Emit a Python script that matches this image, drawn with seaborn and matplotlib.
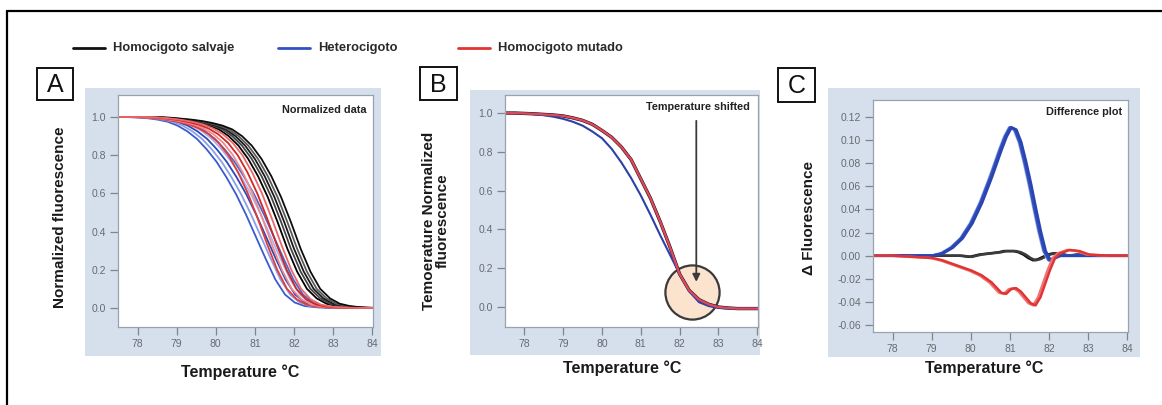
import numpy as np
import pandas as pd
import matplotlib
matplotlib.use("Agg")
import matplotlib.pyplot as plt
import seaborn as sns
from matplotlib.lines import Line2D
from matplotlib.patches import Rectangle
from matplotlib.ticker import FormatStrFormatter

# ---------------------------------------------------------------- data
temps = [77.0, 77.25, 77.5, 77.75, 78.0, 78.25, 78.5, 78.75, 79.0, 79.25,
         79.5, 79.75, 80.0, 80.25, 80.5, 80.75, 81.0, 81.25, 81.5, 81.75,
         82.0, 82.25, 82.5, 82.75, 83.0, 83.25, 83.5, 83.75, 84.0, 84.25, 84.5]

groups = ["Homocigoto salvaje", "Heterocigoto", "Homocigoto mutado"]

# A: normalized melting curves (median replicate of each genotype)
norm_wt = [1.0, 1.0, 1.0, 1.0, 1.0, 1.0, 0.998, 0.995, 0.99, 0.985,
           0.978, 0.968, 0.955, 0.935, 0.90, 0.85, 0.78, 0.69, 0.58, 0.45,
           0.31, 0.19, 0.10, 0.05, 0.022, 0.01, 0.004, 0.001, 0.0, 0.0, 0.0]
norm_het = [1.0, 1.0, 1.0, 1.0, 0.999, 0.997, 0.993, 0.986, 0.975, 0.955,
            0.925, 0.885, 0.83, 0.765, 0.685, 0.595, 0.49, 0.375, 0.26, 0.15,
            0.07, 0.028, 0.01, 0.004, 0.001, 0.0, 0.0, 0.0, 0.0, 0.0, 0.0]
norm_mut = [1.0, 1.0, 1.0, 1.0, 1.0, 0.998, 0.995, 0.99, 0.983, 0.973,
            0.96, 0.94, 0.91, 0.865, 0.80, 0.71, 0.60, 0.47, 0.33, 0.20,
            0.10, 0.045, 0.018, 0.007, 0.003, 0.001, 0.0, 0.0, 0.0, 0.0, 0.0]

# melting-temperature offsets of the individual replicates (degC)
rep_shift_wt = [-0.17, -0.08, 0.0, 0.08, 0.17]
rep_shift_het = [-0.23, -0.10, 0.03, 0.15, 0.23]
rep_shift_mut = [-0.18, -0.06, 0.06, 0.18]

# B: temperature-shifted curves
shift_wt = [1.0, 1.0, 1.0, 1.0, 0.998, 0.996, 0.993, 0.99, 0.985, 0.975,
            0.962, 0.942, 0.91, 0.875, 0.825, 0.76, 0.66, 0.56, 0.44, 0.31,
            0.17, 0.085, 0.038, 0.014, 0.0, -0.005, -0.008, -0.008, -0.008, -0.008, -0.008]
shift_het = [1.0, 1.0, 1.0, 1.0, 0.998, 0.994, 0.989, 0.981, 0.97, 0.955,
             0.935, 0.905, 0.87, 0.815, 0.745, 0.665, 0.575, 0.475, 0.37, 0.27,
             0.17, 0.08, 0.025, 0.005, -0.005, -0.008, -0.008, -0.008, -0.008, -0.008, -0.008]
shift_mut = shift_wt

# C: difference plot relative to the wild-type mean
temps_diff = [77.0, 77.5, 78.0, 78.5, 79.0, 79.25, 79.5, 79.75, 80.0, 80.25,
              80.5, 80.75, 80.875, 81.0, 81.125, 81.25, 81.375, 81.5, 81.625, 81.75,
              81.875, 82.0, 82.125, 82.25, 82.5, 82.75, 83.0, 83.5, 84.0, 84.5]
diff_wt = [0.0, 0.0, 0.0, 0.0, 0.0, 0.0, 0.0, 0.0, -0.001, 0.001,
           0.002, 0.003, 0.004, 0.004, 0.004, 0.003, 0.001, -0.002, -0.004, -0.003,
           -0.001, 0.001, 0.002, 0.002, 0.0, 0.001, 0.0, 0.0, 0.0, 0.0]
diff_het = [0.0, 0.0, 0.0, 0.0, 0.0, 0.002, 0.007, 0.015, 0.028, 0.046,
            0.068, 0.092, 0.103, 0.111, 0.109, 0.098, 0.081, 0.062, 0.041, 0.021,
            0.004, -0.004, -0.002, 0.0, 0.0, 0.0, 0.0, 0.0, 0.0, 0.0]
diff_mut = [0.0, 0.0, 0.0, -0.001, -0.002, -0.004, -0.007, -0.010, -0.013, -0.017,
            -0.023, -0.032, -0.033, -0.029, -0.028, -0.031, -0.036, -0.041, -0.043, -0.036,
            -0.024, -0.012, -0.002, 0.002, 0.005, 0.004, 0.001, 0.0, 0.0, 0.0]
rep_shift_diff = [-0.03, 0.03]

x_ticks = [78, 79, 80, 81, 82, 83, 84]
norm_ticks = [0.0, 0.2, 0.4, 0.6, 0.8, 1.0]
diff_ticks = [-0.06, -0.04, -0.02, 0.0, 0.02, 0.04, 0.06, 0.08, 0.10, 0.12]

shift_focus = (82.31, 0.08)     # region where the shifted curves converge
arrow_from, arrow_to = (82.43, 0.96), (82.43, 0.13)

# ---------------------------------------------------------------- style
sns.set_theme(style="white")
plt.rcParams["font.family"] = ["Liberation Sans", "DejaVu Sans"]
plt.rcParams["axes.unicode_minus"] = False

BLACK, BLUE, RED = "#111111", "#3352c2", "#e03434"
BG = "#d6e0ec"
SPINE = "#9aa3ad"

W, H = 1162, 405
fig = plt.figure(figsize=(W / 100, H / 100), dpi=100)


def fx(px):
    return px / W


def fy(py):
    return 1 - py / H


def rect(x0, y0, x1, y1):
    return [fx(x0), fy(y1), fx(x1) - fx(x0), fy(y0) - fy(y1)]


def replicates(xs, base, shifts, colors, tag):
    frames, pal = [], {}
    for i, (s, c) in enumerate(zip(shifts, colors)):
        name = f"{tag}{i}"
        frames.append(pd.DataFrame({"temp": np.asarray(xs) + s,
                                    "value": base, "curve": name}))
        pal[name] = c
    return pd.concat(frames, ignore_index=True), pal


def draw(ax, base, shifts, colors, tag, lw, xs=temps):
    df, pal = replicates(xs, base, shifts, colors, tag)
    sns.lineplot(data=df, x="temp", y="value", hue="curve", palette=pal,
                 hue_order=list(pal), estimator=None, sort=False,
                 legend=False, linewidth=lw, ax=ax)


def style_axes(ax, ylim, yticks, fmt):
    ax.set_facecolor("white")
    ax.set_xlim(77.5, 84.02)
    ax.set_ylim(*ylim)
    ax.set_xticks(x_ticks)
    ax.set_yticks(yticks)
    ax.yaxis.set_major_formatter(FormatStrFormatter(fmt))
    ax.tick_params(axis="both", which="major", bottom=True, left=True,
                   direction="out", length=6, width=0.9, color="#7d858d",
                   labelsize=7.5, labelcolor="#666b71", pad=2.5)
    for sp in ax.spines.values():
        sp.set_color(SPINE)
        sp.set_linewidth(0.9)
    ax.set_xlabel("")
    ax.set_ylabel("")


def panel_background(x0, y0, x1, y1):
    fig.add_artist(Rectangle((fx(x0), fy(y1)), fx(x1) - fx(x0), fy(y0) - fy(y1),
                             transform=fig.transFigure, facecolor=BG,
                             edgecolor="none", zorder=-5))


def panel_letter(letter, x0, y0, x1, y1):
    fig.add_artist(Rectangle((fx(x0), fy(y1)), fx(x1) - fx(x0), fy(y0) - fy(y1),
                             transform=fig.transFigure, facecolor="white",
                             edgecolor="#111111", linewidth=1.4, zorder=2))
    fig.text(fx((x0 + x1) / 2), fy((y0 + y1) / 2 + 1), letter, ha="center",
             va="center", fontsize=18, color="#111111", zorder=3)


def set_labels(ax, xlab, xpos, ylab, ypos):
    ax.set_xlabel(xlab, fontsize=11.5, fontweight="bold", color="#1a1a1a",
                  va="center", ha="center")
    ax.xaxis.set_label_coords(fx(xpos[0]), fy(xpos[1]), transform=fig.transFigure)
    ax.set_ylabel(ylab, fontsize=11, fontweight="bold", color="#1a1a1a",
                  va="center", ha="center", linespacing=1.0)
    ax.yaxis.set_label_coords(fx(ypos[0]), fy(ypos[1]), transform=fig.transFigure)


def corner_note(ax, text, x, y):
    ax.text(x, y, text, transform=ax.transAxes, ha="right", va="center",
            fontsize=7.8, fontweight="bold", color="#222222", zorder=6)


# ---------------------------------------------------------------- panel A
panel_background(85, 88, 381, 356)
axA = fig.add_axes(rect(118, 95, 373, 327))
draw(axA, norm_wt, rep_shift_wt,
     ["#000000", "#444444", "#1a1a1a", "#5a5a5a", "#0d0d0d"], "wt", 1.3)
draw(axA, norm_het, rep_shift_het,
     ["#3a5bd0", "#8a9fe6", "#2a48b8", "#a6b5ec", "#4d68cc"], "het", 1.3)
draw(axA, norm_mut, rep_shift_mut,
     ["#e23a3a", "#f08a8a", "#cf2626", "#ec6767"], "mut", 1.3)
style_axes(axA, (-0.1, 1.115), norm_ticks, "%.1f")
set_labels(axA, "Temperature °C", (240, 372), "Normalized fluorescence", (60, 217))
corner_note(axA, "Normalized data", 0.976, 0.935)
panel_letter("A", 37, 68, 73, 100)

# ---------------------------------------------------------------- panel B
panel_background(470, 90, 760, 355)
axB = fig.add_axes(rect(505, 95, 758, 327))
axB.plot([shift_focus[0]], [shift_focus[1]], marker="o", markersize=39,
         markerfacecolor="#fbe3cd", markeredgecolor="#3a3a3a",
         markeredgewidth=1.6, linestyle="none", zorder=1)
draw(axB, shift_wt, [0.0], [BLACK], "wt", 2.4)
draw(axB, shift_het, [0.0], ["#2c40a8"], "het", 1.5)
draw(axB, shift_mut, [0.0], ["#e0475a"], "mut", 1.7)
axB.annotate("", xy=arrow_to, xytext=arrow_from,
             arrowprops=dict(arrowstyle="-|>", color="#3a3a3a", lw=1.3,
                             mutation_scale=11, shrinkA=0, shrinkB=0),
             zorder=5)
style_axes(axB, (-0.103, 1.093), norm_ticks, "%.1f")
set_labels(axB, "Temperature °C", (622, 368),
           "Temoerature Normalized\nfluorescence", (436, 221))
corner_note(axB, "Temperature shifted", 0.968, 0.948)
panel_letter("B", 420, 67, 457, 100)

# ---------------------------------------------------------------- panel C
panel_background(828, 88, 1140, 357)
axC = fig.add_axes(rect(873, 100, 1128, 332))
draw(axC, diff_wt, rep_shift_diff, [BLACK, "#3c3c3c"], "wt", 1.8, xs=temps_diff)
draw(axC, diff_het, rep_shift_diff, ["#9aaceb", "#6f86dc"], "hetl", 1.4, xs=temps_diff)
draw(axC, diff_het, [0.0, 0.04], [BLUE, "#2a45b0"], "het", 2.0, xs=temps_diff)
draw(axC, diff_mut, rep_shift_diff, ["#ef7474", RED], "mut", 1.8, xs=temps_diff)
style_axes(axC, (-0.066, 0.1347), diff_ticks, "%.2f")
set_labels(axC, "Temperature °C", (984, 368), "Δ Fluorescence", (809, 218))
corner_note(axC, "Difference plot", 0.976, 0.948)
panel_letter("C", 778, 68, 815, 102)

# ---------------------------------------------------------------- legend
legend_items = [(groups[0], BLACK, 73), (groups[1], BLUE, 278), (groups[2], RED, 458)]
for label, color, x0 in legend_items:
    fig.add_artist(Line2D([fx(x0), fx(x0 + 32)], [fy(48), fy(48)],
                          transform=fig.transFigure, color=color, linewidth=2.0))
    fig.text(fx(x0 + 40), fy(48), label, ha="left", va="center",
             fontsize=9.3, fontweight="bold", color="#2a2a2a")

# ---------------------------------------------------------------- frame
fig.add_artist(Line2D([fx(6.5), 1.0], [fy(10.5), fy(10.5)],
                      transform=fig.transFigure, color="#000000", linewidth=1.6))
fig.add_artist(Line2D([fx(6.5), fx(6.5)], [fy(10.5), 0.0],
                      transform=fig.transFigure, color="#000000", linewidth=1.6))

fig.savefig("out.png", dpi=100, facecolor="white")
